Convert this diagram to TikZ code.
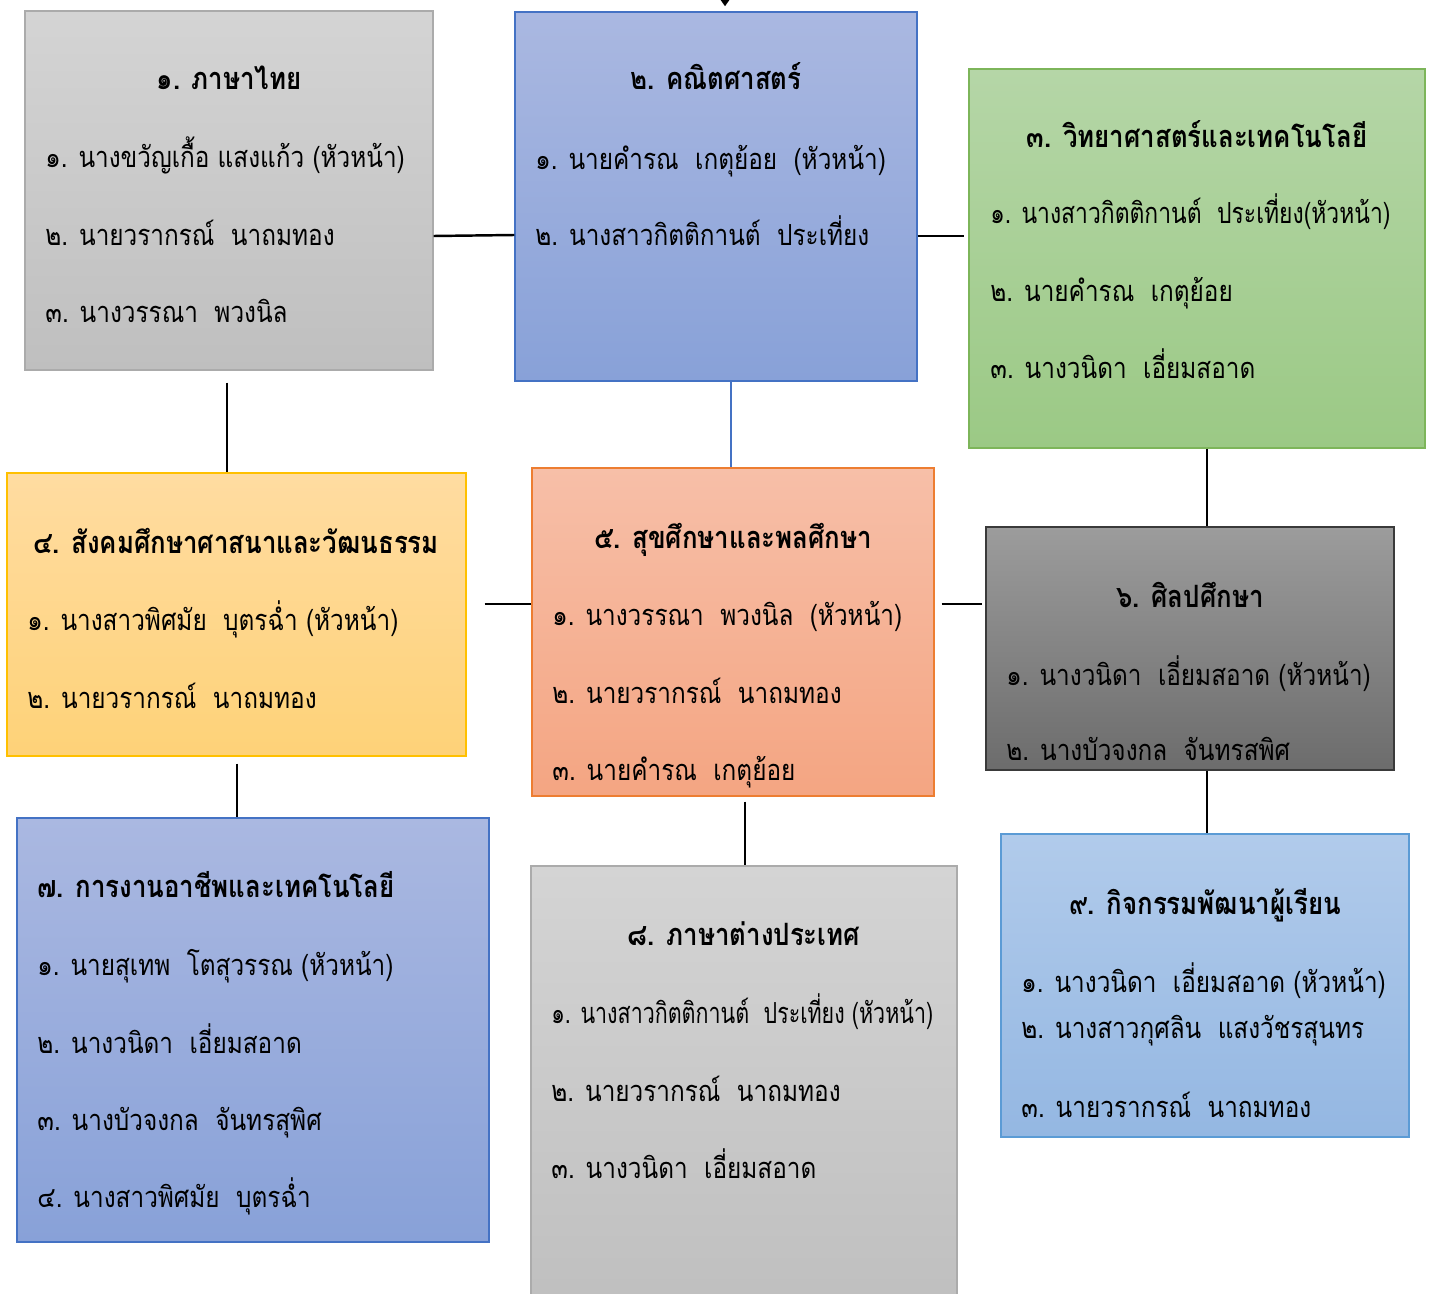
\documentclass[tikz,border=0pt]{standalone}
\usepackage{fontspec}
\usepackage{graphicx}
\setmainfont[Script=Thai, FakeStretch=0.84]{Loma}
\usetikzlibrary{fit,arrows.meta}

\definecolor{grayT}{HTML}{D4D4D4}\definecolor{grayB}{HTML}{BFBFBF}\definecolor{grayL}{HTML}{ABABAB}
\definecolor{blueT}{HTML}{AAB8E1}\definecolor{blueB}{HTML}{88A1D8}\definecolor{blueL}{HTML}{4472C4}
\definecolor{greenT}{HTML}{B5D6A7}\definecolor{greenB}{HTML}{9BC985}\definecolor{greenL}{HTML}{7DB55A}
\definecolor{yelT}{HTML}{FFDCA1}\definecolor{yelB}{HTML}{FED278}\definecolor{yelL}{HTML}{FFC000}
\definecolor{orT}{HTML}{F7BFA8}\definecolor{orB}{HTML}{F4A582}\definecolor{orL}{HTML}{ED7D31}
\definecolor{dkT}{HTML}{9C9C9C}\definecolor{dkB}{HTML}{6C6C6C}\definecolor{dkL}{HTML}{3A3A3A}
\definecolor{ltT}{HTML}{B1CBEB}\definecolor{ltB}{HTML}{94B7E2}\definecolor{ltL}{HTML}{5B9BD5}

\begin{document}
\begin{tikzpicture}[x=0.02cm, y=-0.02cm]
    \tikzset{box/.style={draw, inner sep=0pt, line width=0.8pt},
        graybox/.style={box, draw=grayL, top color=grayT, bottom color=grayB},
        bluebox/.style={box, draw=blueL, top color=blueT, bottom color=blueB},
        greenbox/.style={box, draw=greenL, top color=greenT, bottom color=greenB},
        yelbox/.style={box, draw=yelL, top color=yelT, bottom color=yelB},
        orbox/.style={box, draw=orL, top color=orT, bottom color=orB},
        dkbox/.style={box, draw=dkL, top color=dkT, bottom color=dkB},
        ltbox/.style={box, draw=ltL, top color=ltT, bottom color=ltB},
        ttl/.style={anchor=base, inner sep=0pt, font=\fontsize{17.5}{20}\selectfont\bfseries},
        ln/.style={anchor=base west, inner sep=0pt, font=\fontsize{16.5}{19}\selectfont},
        link/.style={line width=1.4pt}}
    \useasboundingbox (0,0) rectangle (1430,1294);

    \node[graybox, fit={(25,11) (433,370)}] (thai) {};
    \node[bluebox, fit={(515,12) (917,381)}] (math) {};
    \node[greenbox, fit={(969,69) (1425,448)}] (sci) {};
    \node[yelbox, fit={(7,473) (466,756)}] (social) {};
    \node[orbox, fit={(532,468) (934,796)}] (health) {};
    \node[dkbox, fit={(986,527) (1394,770)}] (art) {};
    \node[bluebox, fit={(17,818) (489,1242)}] (career) {};
    \node[graybox, fit={(531,866) (957,1310)}] (foreign) {};
    \node[ltbox, fit={(1001,834) (1409,1137)}] (activity) {};

    % texts
    \node[ttl] (thaiT) at (229,90) {๑. ภาษาไทย};
    \node[ln] (thai1) at (45,168) {๑. นางขวัญเกื้อ แสงแก้ว (หัวหน้า)};
    \node[ln] (thai2) at (45,246) {๒. นายวรากรณ์~~นาถมทอง};
    \node[ln] (thai3) at (45,322) {๓. นางวรรณา~~พวงนิล};

    \node[ttl] (mathT) at (716,90) {๒. คณิตศาสตร์};
    \node[ln] (math1) at (535,170) {๑. นายคำรณ~~เกตุย้อย~~(หัวหน้า)};
    \node[ln] (math2) at (535,246) {๒. นางสาวกิตติกานต์~~ประเที่ยง};

    \node[ttl] (sciT) at (1197,148) {๓. วิทยาศาสตร์และเทคโนโลยี};
    \node[ln] (sci1) at (990,224) {\scalebox{0.94}[1]{๑. นางสาวกิตติกานต์~~ประเที่ยง(หัวหน้า)}};
    \node[ln] (sci2) at (990,301) {๒. นายคำรณ~~เกตุย้อย};
    \node[ln] (sci3) at (990,378) {๓. นางวนิดา~~เอี่ยมสอาด};

    \node[ttl] (socialT) at (236,553) {๔. สังคมศึกษาศาสนาและวัฒนธรรม};
    \node[ln] (social1) at (27,630) {๑. นางสาวพิศมัย~~บุตรฉ่ำ (หัวหน้า)};
    \node[ln] (social2) at (27,708) {๒. นายวรากรณ์~~นาถมทอง};

    \node[ttl] (healthT) at (733,548) {๕. สุขศึกษาและพลศึกษา};
    \node[ln] (health1) at (552,625) {๑. นางวรรณา~~พวงนิล~~(หัวหน้า)};
    \node[ln] (health2) at (552,703) {๒. นายวรากรณ์~~นาถมทอง};
    \node[ln] (health3) at (552,780) {๓. นายคำรณ~~เกตุย้อย};

    \node[ttl] (artT) at (1190,607) {๖. ศิลปศึกษา};
    \node[ln] (art1) at (1006,685) {๑. นางวนิดา~~เอี่ยมสอาด (หัวหน้า)};
    \node[ln] (art2) at (1006,760) {๒. นางบัวจงกล~~จันทรสพิศ};

    \node[ttl, anchor=base west] (careerT) at (37,897) {๗. การงานอาชีพและเทคโนโลยี};
    \node[ln] (career1) at (37,975) {๑. นายสุเทพ~~โตสุวรรณ (หัวหน้า)};
    \node[ln] (career2) at (37,1053) {๒. นางวนิดา~~เอี่ยมสอาด};
    \node[ln] (career3) at (37,1130) {๓. นางบัวจงกล~~จันทรสุพิศ};
    \node[ln] (career4) at (37,1207) {๔. นางสาวพิศมัย~~บุตรฉ่ำ};

    \node[ttl] (foreignT) at (744,945) {๘. ภาษาต่างประเทศ};
    \node[ln] (foreign1) at (551,1023) {\scalebox{0.88}[1]{๑. นางสาวกิตติกานต์~~ประเที่ยง (หัวหน้า)}};
    \node[ln] (foreign2) at (551,1101) {๒. นายวรากรณ์~~นาถมทอง};
    \node[ln] (foreign3) at (551,1178) {๓. นางวนิดา~~เอี่ยมสอาด};

    \node[ttl] (activityT) at (1205,914) {๙. กิจกรรมพัฒนาผู้เรียน};
    \node[ln] (activity1) at (1021,992) {๑. นางวนิดา~~เอี่ยมสอาด (หัวหน้า)};
    \node[ln] (activity2) at (1021,1038) {๒. นางสาวกุศลิน~~แสงวัชรสุนทร};
    \node[ln] (activity3) at (1021,1117) {๓. นายวรากรณ์~~นาถมทอง};

    % links
    \coordinate (in) at (725,-20);
    \draw[link, -{Triangle[width=8pt, length=6pt]}, shorten >=0.1cm] (in) -- (725,0 |- math.north);
    \draw[link] (thai.east |- 0,236) -- (math.west |- 0,235);
    \draw[link, shorten >=0.08cm] (math.east |- 0,236) -- (sci.west |- 0,236);
    \draw[link, shorten <=0.24cm] (227,0 |- thai.south) -- (227,0 |- social.north);
    \draw[link, blueL] (731,0 |- math.south) -- (731,0 |- health.north);
    \draw[link, shorten <=0.36cm] (social.east |- 0,604) -- (health.west |- 0,604);
    \draw[link, shorten <=0.14cm, shorten >=0.06cm] (health.east |- 0,604) -- (art.west |- 0,604);
    \draw[link] (1207,0 |- sci.south) -- (1207,0 |- art.north);
    \draw[link, shorten <=0.14cm] (237,0 |- social.south) -- (237,0 |- career.north);
    \draw[link, shorten <=0.1cm] (745,0 |- health.south) -- (745,0 |- foreign.north);
    \draw[link] (1207,0 |- art.south) -- (1207,0 |- activity.north);
\end{tikzpicture}
\end{document}
